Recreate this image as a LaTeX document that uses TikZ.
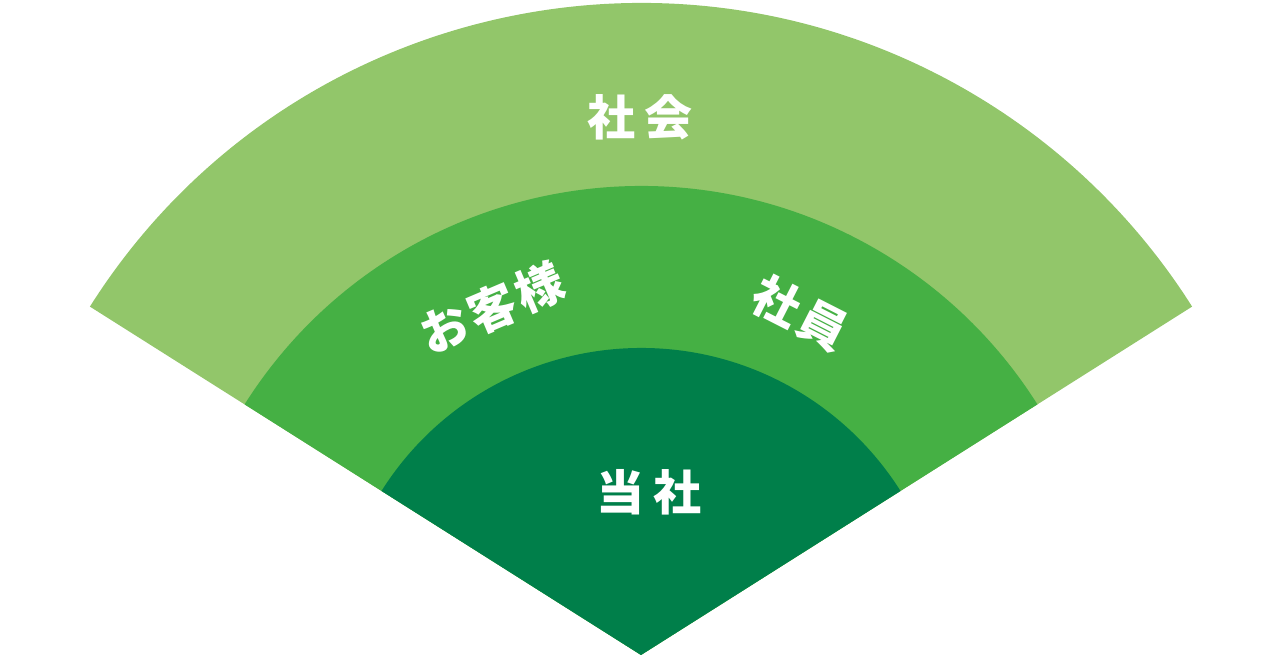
\documentclass[tikz,border=0pt]{standalone}
\usepackage{fontspec}
\newfontfamily\cjk{Noto Sans CJK JP}
\definecolor{outerg}{RGB}{146,198,106}
\definecolor{midg}{RGB}{69,176,68}
\definecolor{innerg}{RGB}{0,127,74}
\tikzset{
  lbl/.style={text=white, font=\cjk\bfseries\fontsize{48}{52}\selectfont, inner sep=0pt},
}
\begin{document}
\begin{tikzpicture}[x=1pt,y=1pt]
\useasboundingbox (0,0) rectangle (1280,660);
\coordinate (apex) at (641,5);
\fill[outerg] (apex) -- ++(147.7:652) arc[start angle=147.7,end angle=32.3,radius=652] -- cycle;
\fill[midg] (apex) -- ++(147.7:469) arc[start angle=147.7,end angle=32.3,radius=469] -- cycle;
\fill[innerg] (apex) -- ++(147.7:307) arc[start angle=147.7,end angle=32.3,radius=307] -- cycle;
\node[lbl] (society) at (640,543) {社\hspace{9pt}会};
\node[lbl, rotate=23] (customer) at (492,352) {お\hspace{4pt}客\hspace{4pt}様};
\node[lbl, rotate=-27] (staff) at (800,347) {社\hspace{4pt}員};
\node[lbl] (company) at (649,168) {当\hspace{9pt}社};
\end{tikzpicture}
\end{document}
